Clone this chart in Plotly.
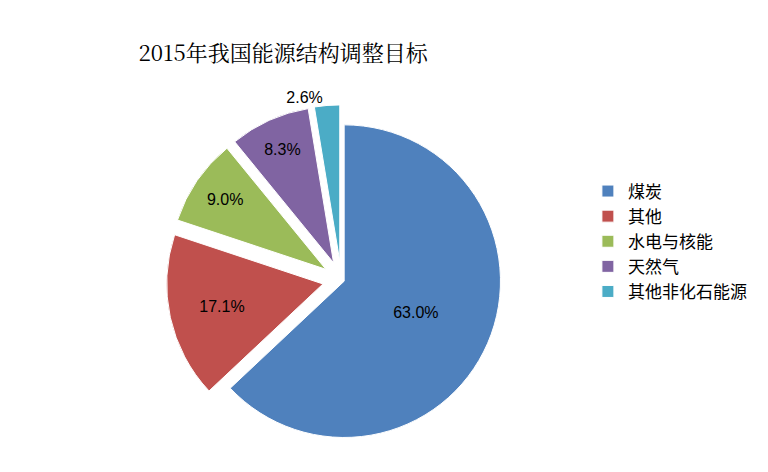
import plotly.graph_objects as go

labels = ["煤炭", "其他", "水电与核能", "天然气", "其他非化石能源"]
values = [63.0, 17.1, 9.0, 8.3, 2.6]
colors = ["#4F81BD", "#C0504D", "#9BBB59", "#8064A2", "#4BACC6"]

fig = go.Figure(go.Pie(
    labels=labels,
    values=values,
    sort=False,
    direction="clockwise",
    rotation=0,
    pull=[0.02, 0.12, 0.12, 0.12, 0.12],
    marker=dict(colors=colors, line=dict(color="white", width=1)),
    texttemplate="%{value:.1f}%",
    textposition=["inside", "inside", "inside", "inside", "outside"],
    insidetextorientation="horizontal",
    textfont=dict(size=16, color="black", family="Arial"),
    outsidetextfont=dict(size=16, color="black", family="Arial"),
    showlegend=True,
    domain=dict(x=[0.04, 0.72], y=[0.0, 0.82]),
))

fig.update_layout(
    width=768, height=472,
    paper_bgcolor="white",
    margin=dict(l=10, r=10, t=20, b=10),
    title=dict(text="2015年我国能源结构调整目标", x=0.17, y=0.92,
               font=dict(family="Noto Serif CJK SC, Noto Sans CJK SC", size=22, color="black")),
    legend=dict(x=0.74, y=0.5, yanchor="middle",
                font=dict(family="Noto Sans CJK SC", size=17, color="black"),
                itemwidth=30),
    font=dict(family="Noto Sans CJK SC"),
)

fig.write_html("out.html")
